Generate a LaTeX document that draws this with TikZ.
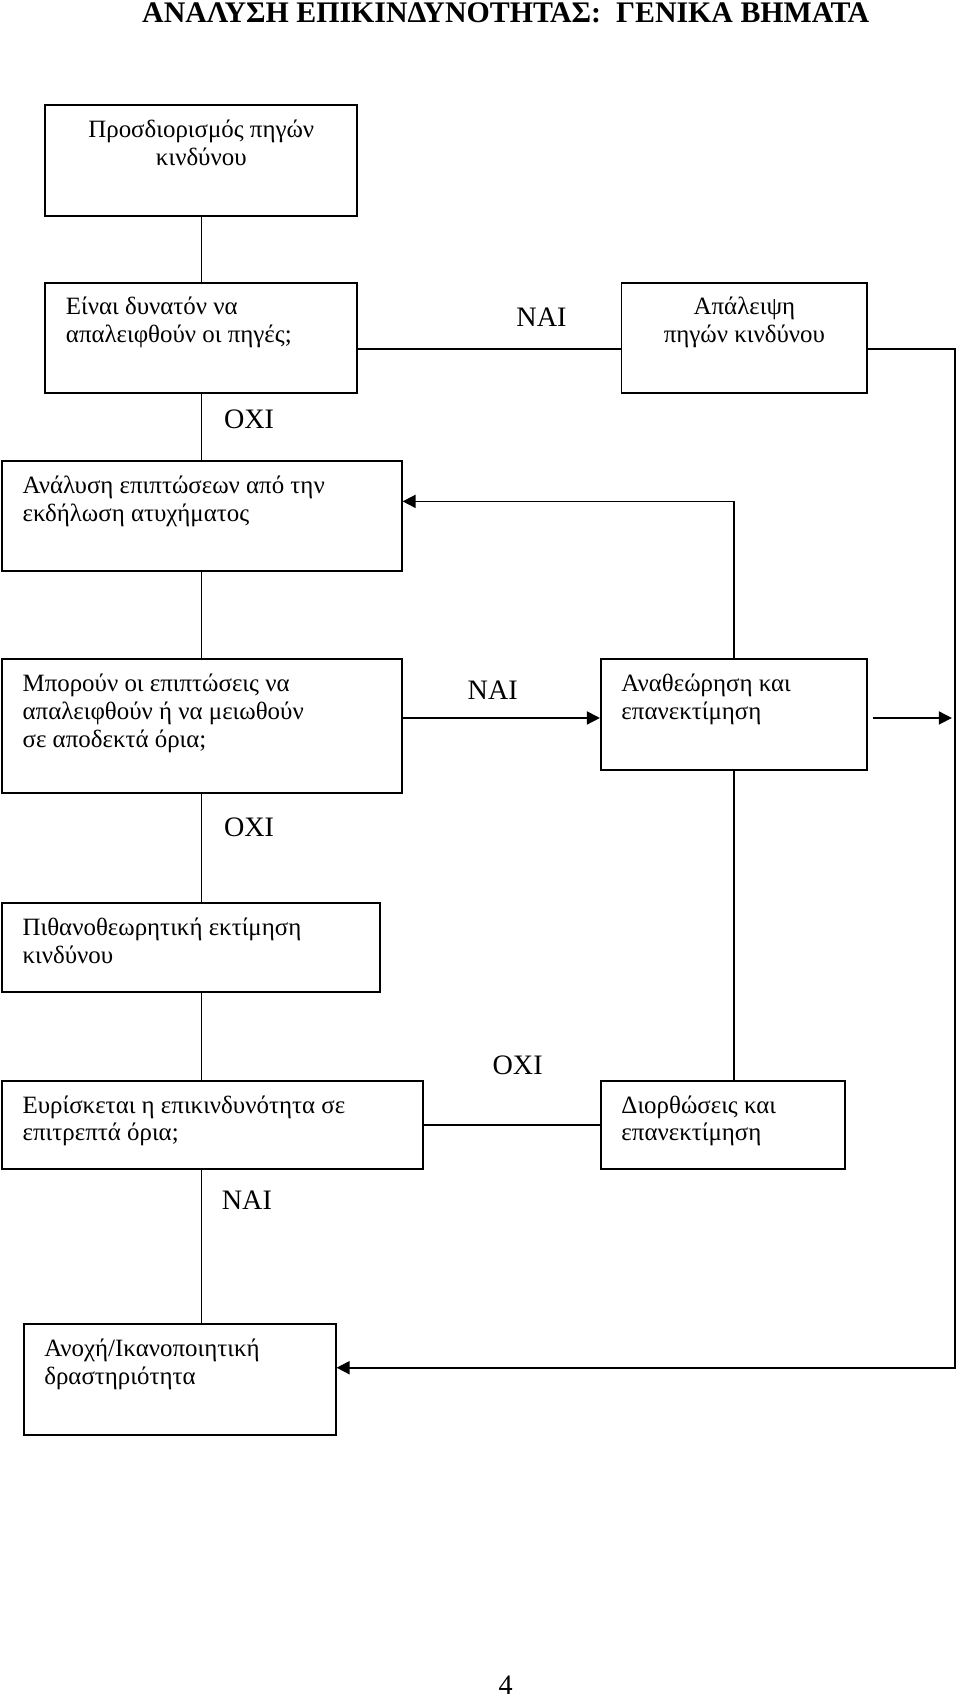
\documentclass[tikz,border=0pt]{standalone}
\usepackage{fontspec}
\setmainfont{Liberation Serif}
\usetikzlibrary{arrows.meta}

\newcommand{\stepcell}[4]{\parbox[c][#2][t]{#1}{#3\strut#4}}

\begin{document}
\begin{tikzpicture}[x=0.5pt, y=-0.5pt,
          stepbox/.style={draw,line width=0.9pt,anchor=north west,inner xsep=9.5pt,inner ysep=6pt,font=\fontsize{11.5}{12.8}\selectfont},
          link/.style={line width=0.8pt},
          flow/.style={line width=0.8pt,-{Triangle[length=6pt,width=6pt]}},
          tag/.style={inner sep=0pt,font=\fontsize{13}{15}\selectfont},
        ]

        \useasboundingbox (0,0) rectangle (887,1568);

        \node[inner sep=0pt,font=\fontsize{13.8}{16}\selectfont\bfseries] (head) at (467,12) {ΑΝΑΛΥΣΗ ΕΠΙΚΙΝΔΥΝΟΤΗΤΑΣ:~~ΓΕΝΙΚΑ ΒΗΜΑΤΑ};

        \node[stepbox] (src) at (41,96) {\stepcell{125pt}{39.5pt}{\centering}{Προσδιορισμός πηγών\\κινδύνου}};
        \node[stepbox] (elim) at (41,260) {\stepcell{125pt}{39pt}{\raggedright}{Είναι δυνατόν να\\απαλειφθούν οι πηγές;}};
        \node[stepbox] (remove) at (573,260) {\stepcell{94.5pt}{39pt}{\centering}{Απάλειψη\\πηγών κινδύνου}};
        \node[stepbox] (conseq) at (1,425) {\stepcell{165.5pt}{38.5pt}{\raggedright}{Ανάλυση επιπτώσεων από την\\εκδήλωση ατυχήματος}};
        \node[stepbox] (reduce) at (1,608) {\stepcell{165.5pt}{49.5pt}{\raggedright}{Μπορούν οι επιπτώσεις να\\απαλειφθούν ή να μειωθούν\\σε αποδεκτά όρια;}};
        \node[stepbox] (review) at (554,608) {\stepcell{104pt}{39pt}{\raggedright}{Αναθεώρηση και\\επανεκτίμηση}};
        \node[stepbox] (prob) at (1,833) {\stepcell{155.5pt}{29pt}{\raggedright}{Πιθανοθεωρητική εκτίμηση\\κινδύνου}};
        \node[stepbox] (accept) at (1,997) {\stepcell{175.5pt}{29pt}{\raggedright}{Ευρίσκεται η επικινδυνότητα σε\\επιτρεπτά όρια;}};
        \node[stepbox] (correct) at (554,997) {\stepcell{93.5pt}{29pt}{\raggedright}{Διορθώσεις και\\επανεκτίμηση}};
        \node[stepbox] (tol) at (21,1222) {\stepcell{125pt}{39pt}{\raggedright}{Ανοχή/Ικανοποιητική\\δραστηριότητα}};

        \node[tag] (yes1) at (500,293) {ΝΑΙ};
        \node[tag] (no1) at (230,387) {ΟΧΙ};
        \node[tag] (yes2) at (455,637) {ΝΑΙ};
        \node[tag] (no2) at (230,764) {ΟΧΙ};
        \node[tag] (no3) at (478,984) {ΟΧΙ};
        \node[tag] (yes3) at (228,1108) {ΝΑΙ};
        \node[tag] (page) at (467,1556) {4};

        \coordinate (spine) at (186,0);
        \coordinate (rail) at (882,0);
        \coordinate (row1) at (0,322);
        \coordinate (row2) at (0,463);
        \coordinate (row3) at (0,663);
        \coordinate (row4) at (0,1263);
        \coordinate (stub) at (806,663);

        \draw[link] (src.south -| spine) -- (elim.north -| spine);
        \draw[link] (elim.south -| spine) -- (conseq.north -| spine);
        \draw[link] (conseq.south -| spine) -- (reduce.north -| spine);
        \draw[link] (reduce.south -| spine) -- (prob.north -| spine);
        \draw[link] (prob.south -| spine) -- (accept.north -| spine);
        \draw[link] (accept.south -| spine) -- (tol.north -| spine);

        \draw[link] (elim.east |- row1) -- (remove.west |- row1);
        \draw[flow] (remove.east |- row1) -- (rail |- row1) -- (rail |- row4) -- (tol.east |- row4);
        \draw[flow] (review.north) -- (review.north |- row2) -- (conseq.east |- row2);
        \draw[flow] (reduce.east |- row3) -- (review.west |- row3);
        \draw[flow,shorten >=1.5pt] (stub) -- (rail |- row3);
        \draw[link] (review.south) -- (review.south |- correct.north);
        \draw[link] (accept.east) -- (correct.west);

      \end{tikzpicture}
\end{document}
